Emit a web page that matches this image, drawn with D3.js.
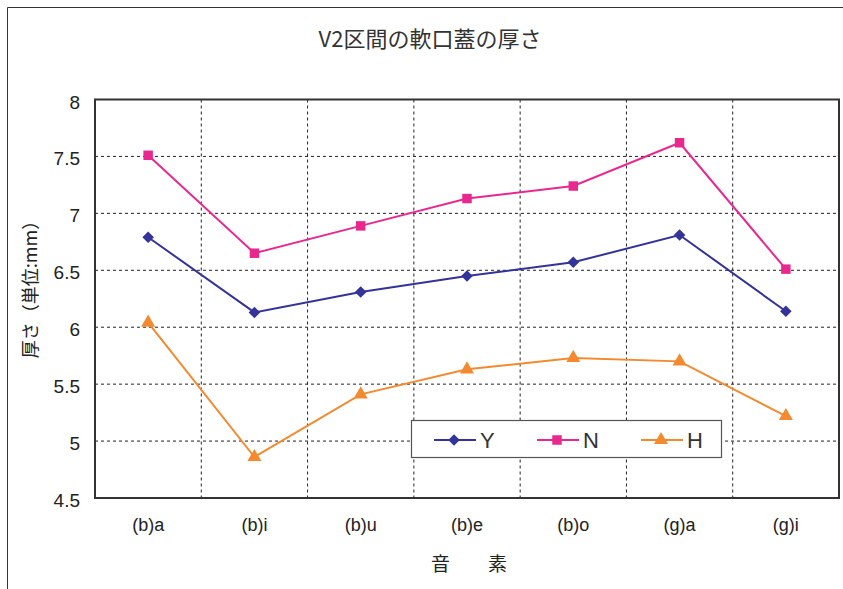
<!DOCTYPE html>
<html><head><meta charset="utf-8">
<script src="https://cdn.jsdelivr.net/npm/d3@7"></script>
<style>body{margin:0;background:#fff}svg{display:block}</style>
</head><body>
<svg id="c" width="843" height="589"></svg>
<script>
const categories = ["(b)a","(b)i","(b)u","(b)e","(b)o","(g)a","(g)i"];
const seriesNames = ["Y","N","H"];
const valuesY = [6.79, 6.13, 6.31, 6.45, 6.57, 6.81, 6.14];
const valuesN = [7.51, 6.65, 6.89, 7.13, 7.24, 7.62, 6.51];
const valuesH = [6.04, 4.86, 5.41, 5.63, 5.73, 5.70, 5.22];
const yTicks = [4.5, 5, 5.5, 6, 6.5, 7, 7.5, 8];
const title = "V2区間の軟口蓋の厚さ";
const yLabel = "厚さ（単位:mm）";
const xLabel = "音　　素";

const series = [
  {name: seriesNames[0], values: valuesY, color: "#333399", symbol: d3.symbolDiamond2, size: 85},
  {name: seriesNames[1], values: valuesN, color: "#e9288f", symbol: d3.symbolSquare, size: 90},
  {name: seriesNames[2], values: valuesH, color: "#f38a2f", symbol: d3.symbolTriangle, size: 85}
];

const svg = d3.select("#c");
const m = {l: 95, r: 839, t: 99.5, b: 498};
const font = "'Liberation Sans', Arial, 'Noto Sans CJK JP', sans-serif";

// outer frame
svg.append("path").attr("d", "M7.5,589 V7.5 H843").attr("fill","none").attr("stroke","#333").attr("stroke-width",1);

const x = d3.scaleBand().domain(categories).range([m.l, m.r]);
const y = d3.scaleLinear().domain([4.5, 8]).range([m.b, m.t]);

// grid horizontal
svg.append("g").selectAll("line").data(yTicks.filter(t => t > 4.5 && t < 8)).join("line")
  .attr("x1", m.l).attr("x2", m.r).attr("y1", d => y(d)).attr("y2", d => y(d))
  .attr("stroke", "#222").attr("stroke-width", 1).attr("stroke-dasharray", "3,3");
// grid vertical at category boundaries
svg.append("g").selectAll("line").data(categories.slice(1)).join("line")
  .attr("x1", d => x(d)).attr("x2", d => x(d)).attr("y1", m.t).attr("y2", m.b)
  .attr("stroke", "#222").attr("stroke-width", 1).attr("stroke-dasharray", "3,3");

// plot border
svg.append("rect").attr("x", m.l).attr("y", m.t).attr("width", m.r - m.l).attr("height", m.b - m.t)
  .attr("fill", "none").attr("stroke", "#333").attr("stroke-width", 2);

// y axis labels
const yAxis = d3.axisLeft(y).tickValues(yTicks).tickSize(0).tickPadding(15).tickFormat(d3.format("~g"));
const ga = svg.append("g").attr("transform", `translate(${m.l},0)`).call(yAxis);
ga.select(".domain").remove();
ga.selectAll("text").attr("font-size", 19).attr("font-family", font).attr("fill", "#222").attr("dy", "0.45em");

// x axis labels
const xAxis = d3.axisBottom(x).tickSize(0).tickPadding(20);
const gx = svg.append("g").attr("transform", `translate(0,${m.b})`).call(xAxis);
gx.select(".domain").remove();
gx.selectAll("text").attr("font-size", 18).attr("font-family", font).attr("fill", "#222");

// lines and markers
const line = d3.line().x((d, i) => x(categories[i]) + x.bandwidth() / 2).y(d => y(d));
series.forEach(s => {
  svg.append("path").datum(s.values).attr("d", line).attr("fill", "none")
    .attr("stroke", s.color).attr("stroke-width", 2);
  svg.append("g").selectAll("path").data(s.values).join("path")
    .attr("transform", (d, i) => `translate(${x(categories[i]) + x.bandwidth() / 2},${y(d)})`)
    .attr("d", d3.symbol().type(s.symbol).size(s.size)).attr("fill", s.color);
});

// legend
const lg = svg.append("g");
lg.append("rect").attr("x", 411.5).attr("y", 420.5).attr("width", 310).attr("height", 37)
  .attr("fill", "#fff").attr("stroke", "#555").attr("stroke-width", 1.2);
const legX = [434, 537, 641];
series.forEach((s, i) => {
  const cy = 440;
  lg.append("line").attr("x1", legX[i]).attr("x2", legX[i] + 42).attr("y1", cy).attr("y2", cy)
    .attr("stroke", s.color).attr("stroke-width", 2);
  lg.append("path").attr("transform", `translate(${legX[i] + 20},${cy})`)
    .attr("d", d3.symbol().type(s.symbol).size(s.size)).attr("fill", s.color);
  lg.append("text").attr("x", legX[i] + 46).attr("y", cy).attr("dy", "0.36em")
    .attr("font-size", 22).attr("font-family", font).attr("fill", "#333").text(s.name);
});

// title
svg.append("text").attr("x", 430).attr("y", 39).attr("dy", "0.36em").attr("text-anchor", "middle")
  .attr("font-size", 22).attr("font-family", "'Noto Sans CJK JP', sans-serif").attr("fill", "#333").text(title);
// y label
svg.append("text").attr("transform", "translate(31,285) rotate(-90)").attr("dy", "0.36em").attr("text-anchor", "middle")
  .attr("font-size", 18).attr("font-family", "'Noto Sans CJK JP', sans-serif").attr("fill", "#222").text(yLabel);
// x label
svg.append("text").attr("x", 469).attr("y", 564).attr("dy", "0.36em").attr("text-anchor", "middle")
  .attr("font-size", 19).attr("font-family", "'Noto Sans CJK JP', sans-serif").attr("fill", "#222").text(xLabel);
</script>
</body></html>
